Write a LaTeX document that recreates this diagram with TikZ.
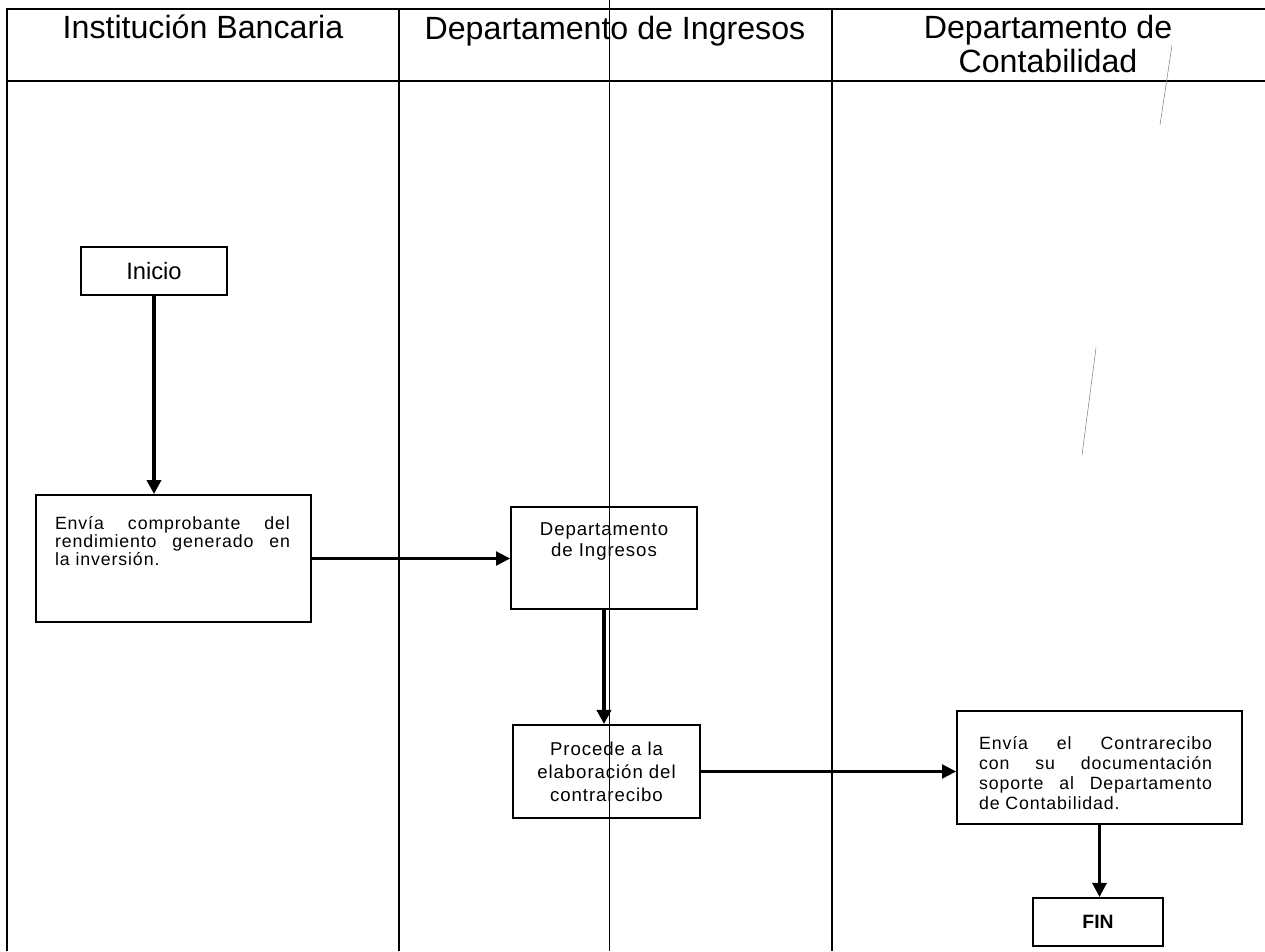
\documentclass[tikz,border=0pt]{standalone}
\usepackage{fontspec}
\setmainfont{Liberation Sans}
\newfontfamily\cajafont[LetterSpace=5]{Liberation Sans}
\usetikzlibrary{arrows.meta}

\begin{document}
\begin{tikzpicture}[
		x=0.02cm, y=-0.02cm,
		carril/.style={line width=1.1pt},
		titulo/.style={align=center, inner sep=0pt, font=\fontsize{18.3}{19.5}\selectfont},
		caja/.style={draw, line width=1.1pt, inner sep=0pt},
		flecha/.style={line width=1.2pt, -{Triangle[length=8pt, width=8pt]}}
		]
		
		\useasboundingbox (0,0) rectangle (1265,951);
		
		\draw[carril] (1265,9) -- (7,9) -- (7,951);
		\draw[carril] (7,81) -- (1265,81);
		\draw[carril] (399,9) -- (399,951);
		\draw[carril] (832,9) -- (832,951);
		\draw[line width=0.5pt] (609,0) -- (609,951);
		\draw[gray, line width=0.3pt] (1172,45) -- (1160,125);
		\draw[gray, line width=0.3pt] (1096,348) -- (1082,455);
		
		\node[titulo, anchor=base] (tBanco) at (203,38) {Institución Bancaria};
		\node[titulo, anchor=base] (tIngresos) at (615,39) {Departamento de Ingresos};
		\node[titulo, anchor=north] (tConta) at (1048,15) {Departamento de\\Contabilidad};
		
		\node[caja, minimum width=2.92cm, minimum height=0.96cm, font=\fontsize{13.5}{16}\selectfont] (inicio) at (154,271) {Inicio};
		\node[caja, minimum width=5.5cm, minimum height=2.54cm] (envia) at (173.5,558.5)
			{\parbox[c][2.54cm][t]{5.5cm}{\cajafont\fontsize{10.1}{10.5}\selectfont\vspace*{0.42cm}\leftskip=0.38cm\rightskip=0.42cm
			Envía comprobante del\linebreak rendimiento generado en\linebreak la inversión.}};
		\node[caja, minimum width=3.72cm, minimum height=2.04cm] (depto) at (604,558)
			{\parbox[c][2.04cm][t]{3.72cm}{\cajafont\fontsize{10.6}{12}\selectfont\vspace*{0.32cm}\centering
			Departamento\\de Ingresos}};
		\node[caja, align=center, minimum width=3.74cm, minimum height=1.86cm, font=\cajafont\fontsize{10.6}{13}\selectfont] (procede) at (606.5,771.5)
			{Procede a la\\elaboración del\\contrarecibo};
		\node[caja, minimum width=5.7cm, minimum height=2.26cm] (contra) at (1099.5,767.5)
			{\parbox[c][2.26cm][t]{5.7cm}{\cajafont\fontsize{10.1}{11.5}\selectfont\vspace*{0.5cm}\leftskip=0.44cm\rightskip=0.6cm
			Envía el Contrarecibo\linebreak con su documentación\linebreak soporte al Departamento\linebreak de Contabilidad.}};
		\node[caja, minimum width=2.6cm, minimum height=0.96cm, font=\bfseries\fontsize{11}{13}\selectfont] (fin) at (1098,922) {FIN};
		
		\draw[flecha, line width=2pt] (inicio.south) -- (inicio.south |- envia.north);
		\draw[flecha] (envia.east) -- (envia.east -| depto.west);
		\draw[flecha, line width=2.6pt] (depto.south) -- (depto.south |- procede.north);
		\draw[flecha] (procede.east) -- (procede.east -| contra.west);
		\draw[flecha, line width=1.6pt] (contra.south) -- (contra.south |- fin.north);
		
	\end{tikzpicture}
\end{document}
